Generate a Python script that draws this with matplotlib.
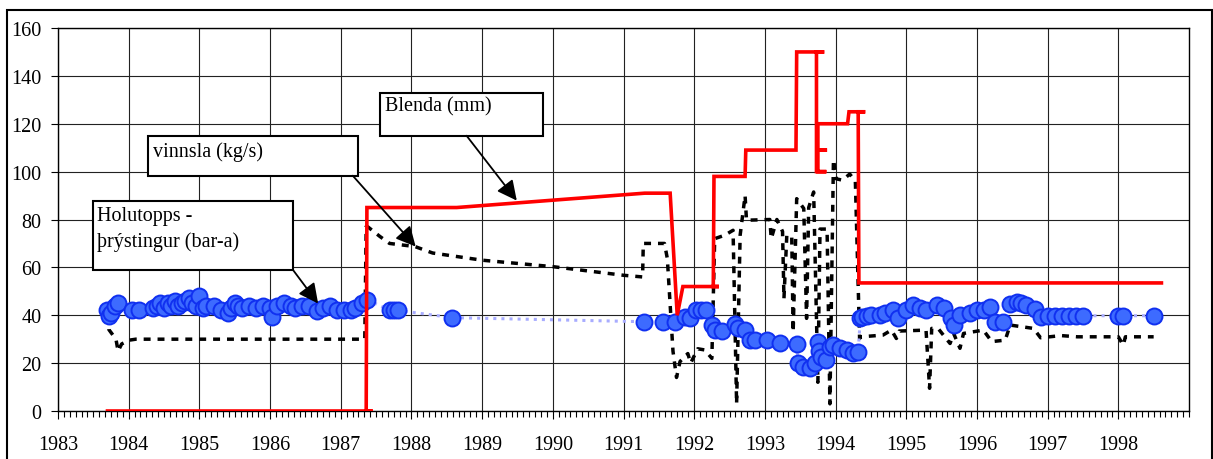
import matplotlib
matplotlib.use("Agg")
import matplotlib.pyplot as plt
from matplotlib.patches import Rectangle
from matplotlib.ticker import MultipleLocator

plt.rcParams['font.family'] = ['Liberation Serif', 'DejaVu Serif']

# Blenda (mm) - red step line
yr_blenda = [1983.70, 1987.45, 1987.36, 1987.37, 1988.64, 1991.30, 1991.66, 1991.76,
             1991.84, 1992.35, 1992.27, 1992.28, 1992.72, 1992.73, 1993.44, 1993.45,
             1993.84, 1993.73, 1993.73, 1993.87, 1993.75, 1993.75, 1993.88, 1993.75,
             1993.75, 1994.17, 1994.19, 1994.42, 1994.32, 1994.33, 1998.61]
blenda = [0, 0, 0, 85, 85, 91, 91, 40,
          52, 52, 52, 98, 98, 109, 109, 150,
          150, 150, 100, 100, 100, 109, 109, 109,
          120, 120, 125, 125, 125, 53.5, 53.5]

# vinnsla (kg/s) - black dotted line
yr_vinn = [1983.71, 1983.72, 1983.77, 1983.82, 1983.85, 1983.90, 1984.01, 1984.10,
           1987.34, 1987.36, 1987.38, 1987.55, 1987.69, 1988.05, 1988.30, 1989.00,
           1990.00, 1991.00, 1991.27, 1991.28, 1991.58, 1991.62, 1991.70, 1991.75,
           1991.80, 1991.91, 1991.95, 1992.05, 1992.15, 1992.25, 1992.29, 1992.43,
           1992.55, 1992.60, 1992.65, 1992.72, 1992.74, 1993.07, 1993.09, 1993.17,
           1993.25, 1993.27, 1993.31, 1993.38, 1993.40, 1993.45, 1993.55, 1993.59,
           1993.62, 1993.69, 1993.75, 1993.78, 1993.88, 1993.92, 1993.97, 1994.01,
           1994.10, 1994.20, 1994.28, 1994.34, 1994.36, 1994.67, 1994.79, 1994.86,
           1994.90, 1995.28, 1995.33, 1995.36, 1995.45, 1995.62, 1995.67, 1995.76,
           1995.81, 1996.09, 1996.21, 1996.40, 1996.47, 1996.80, 1996.90, 1997.19,
           1997.42, 1998.00, 1998.07, 1998.10, 1998.50]
vinnsla = [40, 34, 32, 30, 25, 28, 29.6, 30,
           30, 77, 77, 73, 70, 68.7, 66, 63,
           60.3, 56.7, 56, 70, 70, 63.7, 25, 14,
           20.7, 24, 20, 26, 25.5, 22, 72, 73.4,
           75.5, 3, 73.4, 90, 79.7, 80, 72, 80,
           75, 47, 73.4, 73, 33, 88.7, 84.6, 38.7,
           85, 91.5, 12, 76, 76, 3, 105, 97,
           96.4, 99, 96, 30.3, 31, 31.7, 33.8, 30.3,
           33.4, 33.8, 9.5, 34.5, 34.5, 28.2, 32.4, 26.2,
           32.4, 33.8, 29, 29.6, 35.9, 34.5, 30.6, 31.5,
           31, 31, 27.5, 31, 31]

# Holutopps-þrýstingur (bar-a) - blue circles
yr_pres = [1983.70, 1983.72, 1983.75, 1983.80, 1983.85, 1984.05, 1984.15, 1984.35,
           1984.40, 1984.45, 1984.50, 1984.55, 1984.60, 1984.65, 1984.70, 1984.75,
           1984.80, 1984.85, 1984.90, 1984.95, 1985.00, 1985.05, 1985.10, 1985.20,
           1985.30, 1985.40, 1985.45, 1985.50, 1985.55, 1985.60, 1985.70, 1985.80,
           1985.90, 1986.00, 1986.03, 1986.10, 1986.20, 1986.30, 1986.35, 1986.45,
           1986.55, 1986.66, 1986.75, 1986.85, 1986.95, 1987.05, 1987.15, 1987.20,
           1987.30, 1987.37, 1987.70, 1987.75, 1987.81, 1988.58, 1991.29, 1991.56,
           1991.73, 1991.87, 1991.94, 1992.03, 1992.10, 1992.17, 1992.25, 1992.29,
           1992.39, 1992.58, 1992.62, 1992.72, 1992.79, 1992.86, 1993.03, 1993.21,
           1993.45, 1993.47, 1993.54, 1993.64, 1993.71, 1993.75, 1993.76, 1993.80,
           1993.87, 1993.92, 1993.97, 1994.06, 1994.16, 1994.25, 1994.32, 1994.35,
           1994.37, 1994.45, 1994.50, 1994.63, 1994.70, 1994.81, 1994.88, 1995.00,
           1995.09, 1995.20, 1995.28, 1995.44, 1995.53, 1995.64, 1995.67, 1995.76,
           1995.90, 1996.00, 1996.10, 1996.19, 1996.26, 1996.37, 1996.47, 1996.56,
           1996.63, 1996.70, 1996.82, 1996.90, 1997.00, 1997.10, 1997.20, 1997.30,
           1997.40, 1997.50, 1998.00, 1998.07, 1998.50]
pres = [42, 39.5, 41, 44, 45, 42, 42, 43,
        44, 45, 43, 45, 44, 46, 44, 45,
        46, 47, 45, 44, 48, 43, 44, 44,
        42, 41, 43, 45, 44, 43, 44, 43,
        44, 43, 39.4, 44, 45, 44, 43, 44,
        44, 41.6, 43, 44, 42, 42, 42, 43,
        45, 46.5, 42, 42, 42, 39, 37.3, 37.3,
        37.3, 39.4, 39, 42, 42.4, 42, 35.9, 33.8,
        33.4, 36.3, 34.5, 33.8, 29.6, 29.6, 29.6, 28.2,
        27.8, 19.9, 18.5, 17.8, 19.9, 29, 24.9, 22.7,
        21.3, 26.9, 27.5, 26.2, 25.5, 24.1, 24.8, 38.7,
        39.2, 39.5, 40, 40, 41, 42, 38.7, 42,
        44.2, 43, 42, 44.2, 43, 38.7, 35.9, 40,
        41, 42, 42, 43.5, 37.3, 37.3, 44.9, 45.6,
        45, 44.2, 42.6, 39.4, 39.8, 39.8, 39.8, 39.8,
        39.8, 39.8, 39.8, 39.8, 39.8]

years = list(range(1983, 1999))

fig = plt.figure(figsize=(12.13, 4.6), dpi=100)
ax = fig.add_axes([58 / 1213, 1 - 412 / 460, (1189 - 58) / 1213, (412 - 29) / 460])

ax.plot(yr_vinn, vinnsla, color='black', lw=2.5, dashes=(2.0, 2.0), zorder=3)
ax.plot(yr_pres, pres, color='#a8acff', lw=2.2, ls=':', zorder=4)
ax.plot(yr_pres, pres, ls='none', marker='o', ms=11.5, mfc='#3d6bff',
        mec='#1030f0', mew=1.4, zorder=5)
ax.plot(yr_blenda, blenda, color='#ff0000', lw=2.6, zorder=6, solid_joinstyle='miter')

ax.set_xlim(1983, 1999)
ax.set_ylim(0, 160)
ax.set_xticks(years)
ax.xaxis.set_minor_locator(MultipleLocator(1 / 12))
ax.yaxis.set_major_locator(MultipleLocator(20))
ax.grid(True, which='major', color='#222222', lw=0.8)
ax.set_axisbelow(True)
ax.tick_params(axis='both', which='major', labelsize=14.5, direction='out', length=5,
               width=0.8, pad=7)
ax.tick_params(axis='x', which='minor', direction='out', length=4, width=0.8)
ax.tick_params(axis='x', which='major', length=6, pad=11)
for s in ax.spines.values():
    s.set_linewidth(1.0)

# annotation boxes
arrow = dict(arrowstyle='-|>', mutation_scale=30, lw=1.3, color='black',
             shrinkA=0, shrinkB=0)

def note_box(x0, x1, y0, y1):
    ax.add_patch(Rectangle((x0, y0), x1 - x0, y1 - y0, fill=True, fc='white',
                           ec='black', lw=1.5, zorder=7, clip_on=False))

note_box(1983.49, 1986.32, 59.1, 87.9)
ax.text(1983.55, 81.8, 'Holutopps -', fontsize=14.5, va='center', zorder=8)
ax.text(1983.55, 70.9, 'þrýstingur (bar-a)', fontsize=14.5, va='center', zorder=8)
ax.annotate('', xy=(1986.68, 44.9), xytext=(1986.32, 59.1), arrowprops=arrow, zorder=8)

note_box(1984.27, 1987.24, 98.3, 115.0)
ax.text(1984.34, 108.6, 'vinnsla (kg/s)', fontsize=14.5, va='center', zorder=8)
ax.annotate('', xy=(1988.06, 68.7), xytext=(1987.17, 98.3), arrowprops=arrow, zorder=8)

note_box(1987.55, 1989.86, 115.0, 133.0)
ax.text(1987.62, 127.6, 'Blenda (mm)', fontsize=14.5, va='center', zorder=8)
ax.annotate('', xy=(1989.49, 87.9), xytext=(1988.78, 115.0), arrowprops=arrow, zorder=8)

# outer frame
fig.patches.append(Rectangle((7 / 1213, -0.05), (1212 - 7) / 1213, 1.05 - 10.5 / 460,
                             transform=fig.transFigure, fill=False, ec='black', lw=1.5))

fig.savefig('out.png', dpi=100)
